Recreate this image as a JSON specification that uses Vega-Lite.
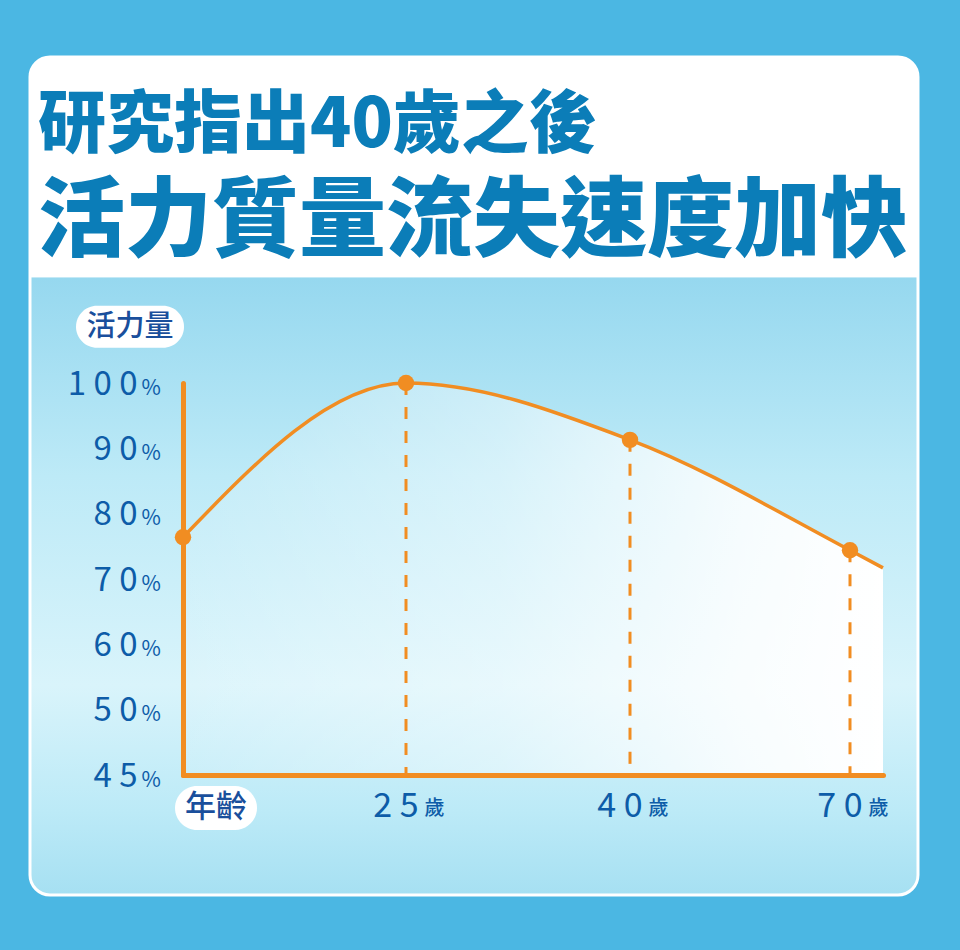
{
  "$schema": "https://vega.github.io/schema/vega-lite/v6.json",
  "width": 888,
  "height": 838,
  "autosize": "none",
  "padding": {"left": 30, "top": 57, "right": 42, "bottom": 55},
  "background": "#4BB7E3",
  "view": {
    "fill": {
      "gradient": "linear", "x1": 0, "y1": 0, "x2": 0, "y2": 1,
      "stops": [
        {"offset": 0, "color": "#FFFFFF"},
        {"offset": 0.262, "color": "#FFFFFF"},
        {"offset": 0.264, "color": "#96D8EF"},
        {"offset": 0.5, "color": "#BDEAF7"},
        {"offset": 0.75, "color": "#D9F4FB"},
        {"offset": 0.9, "color": "#BCEAF7"},
        {"offset": 1, "color": "#A6E0F2"}
      ]
    },
    "stroke": "#FFFFFF",
    "strokeWidth": 3,
    "cornerRadius": 20
  },
  "title": {
    "text": "研究指出40歲之後",
    "subtitle": "活力質量流失速度加快",
    "anchor": "start",
    "frame": "group",
    "orient": "top",
    "offset": -210,
    "dx": 8,
    "font": "Noto Sans CJK TC",
    "fontSize": 68,
    "fontWeight": 900,
    "color": "#0B7DB8",
    "subtitleFont": "Noto Sans CJK TC",
    "subtitleFontSize": 87,
    "subtitleFontWeight": 900,
    "subtitleColor": "#0B7DB8",
    "subtitlePadding": 20
  },
  "data": {
    "values": [
      {"age": 0, "vitality": 76.4},
      {"age": 25, "vitality": 100},
      {"age": 40, "vitality": 91.3},
      {"age": 70, "vitality": 74.4},
      {"age": 75, "vitality": 71.7}
    ]
  },
  "layer": [
    {
      "mark": {
        "type": "area",
        "interpolate": "monotone",
        "fill": {
          "gradient": "linear", "x1": 0, "y1": 0, "x2": 1, "y2": 0,
          "stops": [
            {"offset": 0, "color": "rgba(255,255,255,0.1)"},
            {"offset": 0.45, "color": "rgba(255,255,255,0.4)"},
            {"offset": 0.8, "color": "rgba(255,255,255,0.85)"},
            {"offset": 1, "color": "#FFFFFF"}
          ]
        }
      },
      "encoding": {
        "x": {"field": "age", "type": "quantitative", "axis": null,
          "scale": {"domain": [0, 25, 40, 70, 75], "range": [153, 376, 600, 820, 853], "zero": false, "nice": false}},
        "y": {"field": "vitality", "type": "quantitative", "axis": null,
          "scale": {"domain": [45, 50, 100], "range": [718, 652.7, 326], "zero": false, "nice": false}},
        "y2": {"datum": 45}
      }
    },
    {
      "transform": [{"filter": "datum.age > 0 && datum.age <= 70"}],
      "mark": {"type": "rule", "color": "#F18D22", "strokeWidth": 3, "strokeDash": [12, 12]},
      "encoding": {
        "x": {"field": "age", "type": "quantitative", "axis": null,
          "scale": {"domain": [0, 25, 40, 70, 75], "range": [153, 376, 600, 820, 853], "zero": false, "nice": false}},
        "y": {"field": "vitality", "type": "quantitative", "axis": null,
          "scale": {"domain": [45, 50, 100], "range": [718, 652.7, 326], "zero": false, "nice": false}},
        "y2": {"datum": 45}
      }
    },
    {
      "mark": {"type": "line", "interpolate": "monotone", "color": "#F18D22", "strokeWidth": 3.5},
      "encoding": {
        "x": {
          "field": "age", "type": "quantitative",
          "scale": {"domain": [0, 25, 40, 70, 75], "range": [153, 376, 600, 820, 853], "zero": false, "nice": false},
          "axis": {
            "orient": "bottom", "offset": -120, "values": [25, 40, 70], "title": null, "zindex": 1,
            "labelExpr": "replace(datum.label, regexp('([0-9])(?=[0-9])', 'g'), '$1 ')",
            "labelAlign": "right", "labelOffset": 12, "labelPadding": 41, "labelBaseline": "alphabetic",
            "labelFont": "Noto Sans CJK TC", "labelFontSize": 34, "labelFontWeight": 400, "labelColor": "#0D5CA8",
            "labelOverlap": false, "labelFlush": false, "labelBound": false,
            "ticks": false, "tickSize": 0, "grid": false,
            "domain": true, "domainColor": "#F18D22", "domainWidth": 5, "domainCap": "round"
          }
        },
        "y": {
          "field": "vitality", "type": "quantitative",
          "scale": {"domain": [45, 50, 100], "range": [718, 652.7, 326], "zero": false, "nice": false},
          "axis": {
            "orient": "left", "offset": -153, "values": [45, 50, 60, 70, 80, 90, 100], "title": null, "zindex": 1,
            "labelExpr": "replace(datum.label, regexp('([0-9])(?=[0-9])', 'g'), '$1 ')",
            "labelAlign": "right", "labelOffset": 11, "labelPadding": 46, "labelBaseline": "alphabetic",
            "labelFont": "Noto Sans CJK TC", "labelFontSize": 33, "labelFontWeight": 400, "labelColor": "#0D5CA8",
            "labelOverlap": false, "labelFlush": false, "labelBound": false,
            "ticks": false, "tickSize": 0, "grid": false,
            "domain": true, "domainColor": "#F18D22", "domainWidth": 5, "domainCap": "round"
          }
        }
      }
    },
    {
      "transform": [{"filter": "datum.age <= 70"}],
      "mark": {"type": "circle", "color": "#F18D22", "opacity": 1, "size": 270},
      "encoding": {
        "x": {
          "field": "age", "type": "quantitative",
          "scale": {"domain": [0, 25, 40, 70, 75], "range": [153, 376, 600, 820, 853], "zero": false, "nice": false},
          "axis": {
            "orient": "bottom", "offset": -120, "values": [25, 40, 70], "title": null,
            "labelExpr": "'歲'",
            "labelAlign": "left", "labelOffset": 18, "labelPadding": 39, "labelBaseline": "alphabetic",
            "labelFont": "Noto Sans CJK TC", "labelFontSize": 20, "labelFontWeight": 500, "labelColor": "#0D5CA8",
            "labelOverlap": false, "labelFlush": false, "labelBound": false,
            "ticks": false, "tickSize": 0, "grid": false, "domain": false
          }
        },
        "y": {
          "field": "vitality", "type": "quantitative",
          "scale": {"domain": [45, 50, 100], "range": [718, 652.7, 326], "zero": false, "nice": false},
          "axis": {
            "orient": "left", "offset": -153, "values": [45, 50, 60, 70, 80, 90, 100], "title": null,
            "labelExpr": "'%'",
            "labelAlign": "left", "labelOffset": 11, "labelPadding": 42, "labelBaseline": "alphabetic",
            "labelFont": "Noto Sans CJK TC", "labelFontSize": 21, "labelFontWeight": 400, "labelColor": "#0D5CA8",
            "labelOverlap": false, "labelFlush": false, "labelBound": false,
            "ticks": false, "tickSize": 0, "grid": false, "domain": false
          }
        }
      }
    },
    {
      "data": {"values": [{"label": "活力量"}]},
      "mark": {
        "type": "point", "filled": true, "color": "#FFFFFF", "opacity": 1, "size": 11664,
        "shape": "M -0.611,-0.389 L 0.611,-0.389 A 0.389,0.389 0 0 1 0.611,0.389 L -0.611,0.389 A 0.389,0.389 0 0 1 -0.611,-0.389 Z"
      },
      "encoding": {
        "x": {"datum": -5.94, "type": "quantitative", "axis": null,
          "scale": {"domain": [0, 25, 40, 70, 75], "range": [153, 376, 600, 820, 853], "zero": false, "nice": false}},
        "y": {"datum": 108.6, "type": "quantitative", "axis": null,
          "scale": {"domain": [45, 50, 100], "range": [718, 652.7, 326], "zero": false, "nice": false}}
      }
    },
    {
      "data": {"values": [{"label": "活力量"}]},
      "mark": {"type": "text", "font": "Noto Sans CJK TC", "fontSize": 29, "fontWeight": 500, "color": "#1A4F9C", "align": "center", "baseline": "middle"},
      "encoding": {
        "x": {"datum": -5.94, "type": "quantitative", "axis": null,
          "scale": {"domain": [0, 25, 40, 70, 75], "range": [153, 376, 600, 820, 853], "zero": false, "nice": false}},
        "y": {"datum": 108.6, "type": "quantitative", "axis": null,
          "scale": {"domain": [45, 50, 100], "range": [718, 652.7, 326], "zero": false, "nice": false}},
        "text": {"field": "label"}
      }
    },
    {
      "data": {"values": [{"label": "年齡"}]},
      "mark": {
        "type": "point", "filled": true, "color": "#FFFFFF", "opacity": 1, "size": 6724,
        "shape": "M -0.463,-0.537 L 0.463,-0.537 A 0.537,0.537 0 0 1 0.463,0.537 L -0.463,0.537 A 0.537,0.537 0 0 1 -0.463,-0.537 Z"
      },
      "encoding": {
        "x": {"datum": 3.7, "type": "quantitative", "axis": null,
          "scale": {"domain": [0, 25, 40, 70, 75], "range": [153, 376, 600, 820, 853], "zero": false, "nice": false}},
        "y": {"datum": 42.48, "type": "quantitative", "axis": null,
          "scale": {"domain": [45, 50, 100], "range": [718, 652.7, 326], "zero": false, "nice": false}}
      }
    },
    {
      "data": {"values": [{"label": "年齡"}]},
      "mark": {"type": "text", "font": "Noto Sans CJK TC", "fontSize": 31, "fontWeight": 500, "color": "#1A4F9C", "align": "center", "baseline": "middle"},
      "encoding": {
        "x": {"datum": 3.7, "type": "quantitative", "axis": null,
          "scale": {"domain": [0, 25, 40, 70, 75], "range": [153, 376, 600, 820, 853], "zero": false, "nice": false}},
        "y": {"datum": 42.48, "type": "quantitative", "axis": null,
          "scale": {"domain": [45, 50, 100], "range": [718, 652.7, 326], "zero": false, "nice": false}},
        "text": {"field": "label"}
      }
    }
  ],
  "resolve": {"axis": {"x": "independent", "y": "independent"}},
  "config": {
    "axis": {"grid": false}
  }
}
